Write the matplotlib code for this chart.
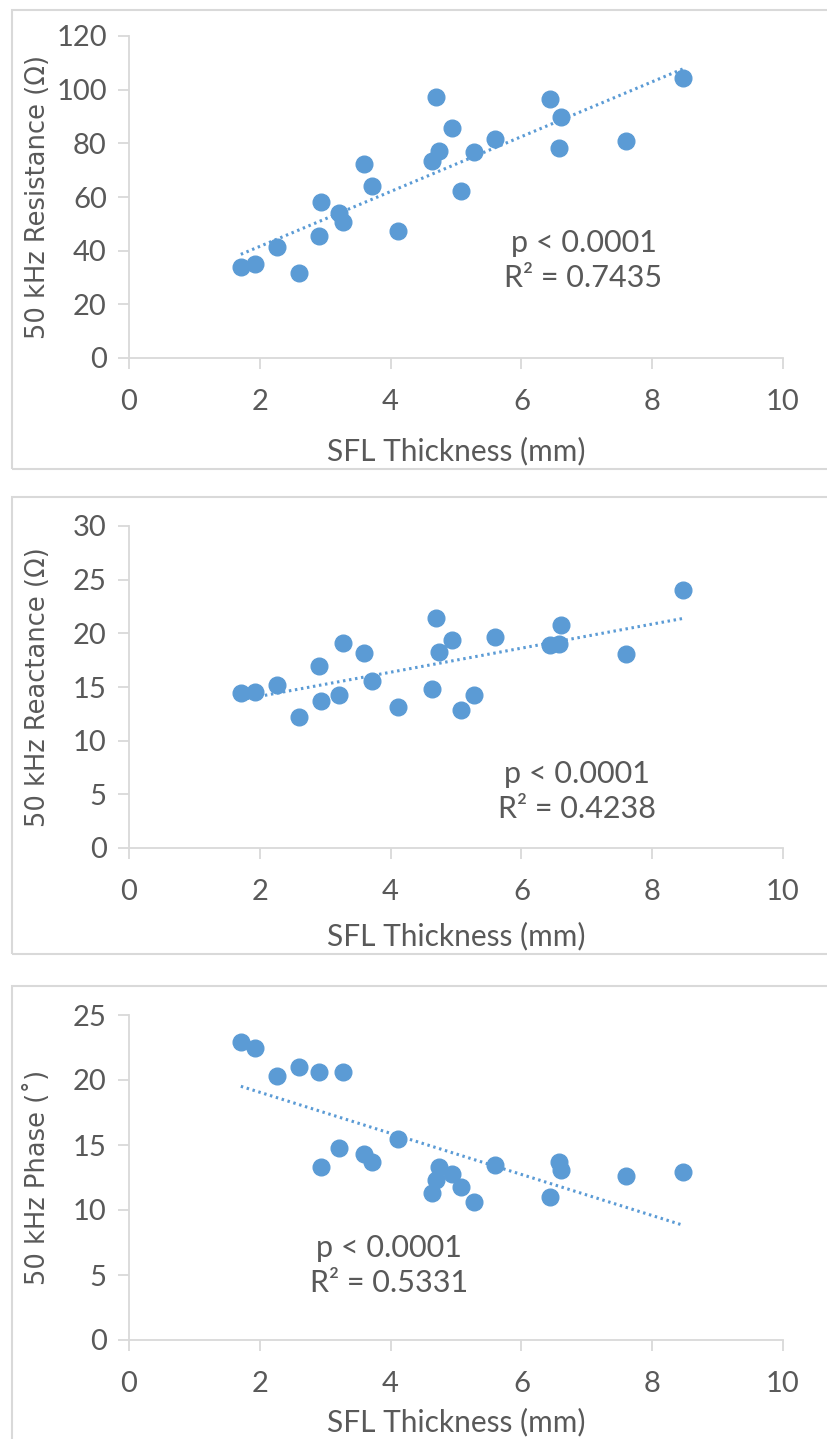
import numpy as np
import matplotlib
matplotlib.use('Agg')
import matplotlib.pyplot as plt
from matplotlib.patches import Rectangle

# SFL thickness (mm), shared by all three panels
thickness = [1.71, 1.93, 2.27, 2.60, 2.90, 2.93, 3.21, 3.27, 3.60, 3.71, 4.11, 4.64,
             4.70, 4.74, 4.94, 5.07, 5.28, 5.60, 6.44, 6.57, 6.61, 7.60, 8.47]
resistance = [34.0, 35.2, 41.5, 31.8, 45.4, 58.0, 53.9, 50.6, 72.2, 64.2, 47.5, 73.5,
              97.4, 77.3, 85.8, 62.2, 76.6, 81.5, 96.7, 78.2, 89.8, 80.7, 104.5]
reactance = [14.4, 14.5, 15.2, 12.2, 17.0, 13.7, 14.3, 19.1, 18.2, 15.6, 13.1, 14.8,
             21.4, 18.3, 19.4, 12.9, 14.3, 19.7, 18.9, 19.0, 20.8, 18.1, 24.0]
phase = [22.9, 22.5, 20.3, 21.0, 20.6, 13.3, 14.8, 20.6, 14.3, 13.7, 15.5, 11.3,
         12.3, 13.3, 12.8, 11.8, 10.6, 13.5, 11.0, 13.7, 13.1, 12.6, 12.9]

ylabels = ['50 kHz Resistance (Ω)', '50 kHz Reactance (Ω)', '50 kHz Phase (˚)']
stats = ['p < 0.0001\nR² = 0.7435', 'p < 0.0001\nR² = 0.4238', 'p < 0.0001\nR² = 0.5331']
ymax = [120, 30, 25]
ystep = [20, 5, 5]
text_pos = [(6.95, 36.5), (6.85, 5.3), (3.98, 5.7)]

blue = '#5B9BD5'
grey = '#595959'
line_grey = '#D9D9D9'
narrow = ['Lato', 'DejaVu Sans']

W, H = 827, 1439
fig = plt.figure(figsize=(W / 100, H / 100), dpi=100)

# axes boxes in pixels: left, y of zero line, height
boxes = [(129, 358, 322), (129, 848, 322), (129, 1340, 325)]
frames = [(12, 10, 459), (12, 497, 457), (12, 986, 460)]
xlabel_y = [-0.245, -0.23, -0.21]

for i, yvals in enumerate([resistance, reactance, phase]):
    fx, fy, fh = frames[i]
    fig.patches.append(Rectangle((fx / W, 1 - (fy + fh) / H), (W + 10 - fx) / W, fh / H,
                                 transform=fig.transFigure, fill=False,
                                 edgecolor=line_grey, lw=1.5))
    left, y0, h = boxes[i]
    ax = fig.add_axes([left / W, 1 - y0 / H, 654 / W, h / H])
    x = np.array(thickness)
    y = np.array(yvals)
    ax.plot(x, y, 'o', color=blue, ms=12, zorder=3)
    k, b = np.polyfit(x, y, 1)
    xl = np.array([x.min(), x.max()])
    ax.plot(xl, k * xl + b, color=blue, lw=2.2, linestyle=(0, (0.8, 1.2)), zorder=2)

    ax.set_xlim(0, 10)
    ax.set_ylim(0, ymax[i])
    ax.set_xticks(range(0, 11, 2))
    ax.set_yticks(range(0, ymax[i] + 1, ystep[i]))
    for s in ['top', 'right']:
        ax.spines[s].set_visible(False)
    for s in ['left', 'bottom']:
        ax.spines[s].set_color(line_grey)
        ax.spines[s].set_linewidth(1.3)
    ax.tick_params(axis='both', direction='out', length=8, width=1.3, color=line_grey,
                   labelcolor=grey, labelsize=21)
    ax.tick_params(axis='x', pad=14)
    ax.tick_params(axis='y', pad=8)
    for lab in ax.get_xticklabels() + ax.get_yticklabels():
        lab.set_family(narrow)

    ax.set_xlabel('SFL Thickness (mm)', fontsize=21.5, color=grey, family=narrow)
    ax.xaxis.set_label_coords(0.5, xlabel_y[i])
    ax.set_ylabel(ylabels[i], fontsize=18.5, color=grey, family=['DejaVu Sans'])
    ax.yaxis.set_label_coords(-0.12, 0.5)

    ax.text(text_pos[i][0], text_pos[i][1], stats[i], ha='center', va='center',
            fontsize=22, color=grey, family=narrow, linespacing=1.3)

fig.savefig('out.png', dpi=100)
